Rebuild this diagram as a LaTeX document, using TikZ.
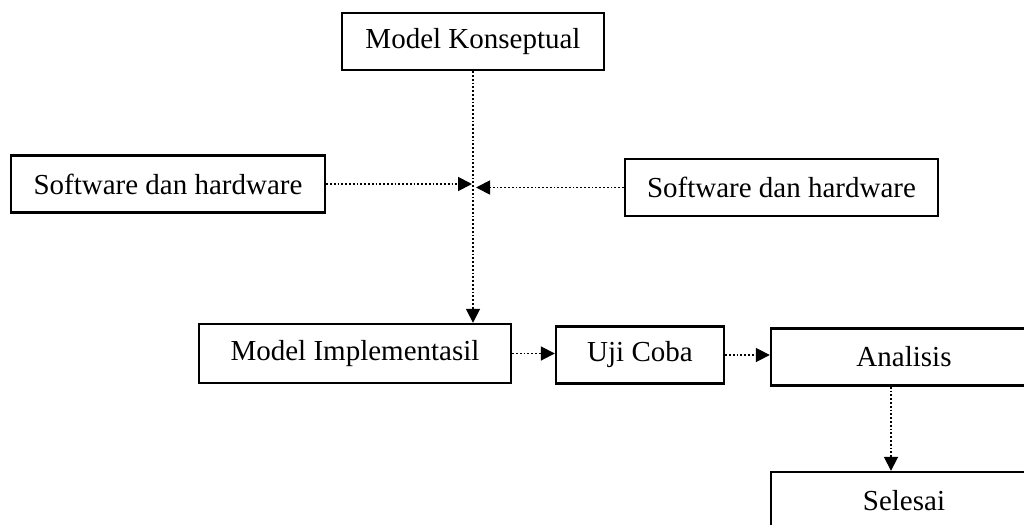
\documentclass[tikz,border=0pt]{standalone}
\usepackage{fontspec}
\setmainfont{Liberation Serif}
\usetikzlibrary{arrows.meta}

\begin{document}
\begin{tikzpicture}[x=0.5pt,y=-0.5pt]

\tikzset{
        every node/.style={font=\fontsize{14.5pt}{17pt}\selectfont},
        box/.style={draw,line width=1.2pt,inner sep=0pt,minimum height=28.5pt},
        flow/.style={-{Triangle[length=7pt,width=7pt]},densely dotted,line width=0.9pt}
}

\useasboundingbox (0,0) rectangle (1024,525);
\clip (0,0) rectangle (1024,525);

\node[box,minimum width=131pt] (MK) at (473,41.5) {Model Konseptual};
\node[box,minimum width=157pt] (SWL) at (168,184) {Software dan hardware};
\node[box,minimum width=156.5pt] (SWR) at (781.5,187.5) {Software dan hardware};

\node[box,minimum width=156pt,minimum height=29.5pt] (MI) at (355,353.5) {Model Implementasil};
\node[box,minimum width=84pt] (UC) at (640,355) {Uji Coba};
\node[box,minimum width=133pt] (AN) at (904,357) {Analisis};
\node[box,minimum width=133pt] (SE) at (904,500.5) {Selesai};

% titik temu di garis tengah
\coordinate (J) at (MK.south |- SWL.east);

\draw[flow] (MK.south) -- (MK.south |- MI.north);
\draw[flow] (SWL.east) -- ([xshift=-0.5pt]J);
\draw[flow] (SWR.west) -- ([xshift=1.5pt]SWR.west -| J);

\draw[flow] (MI.east) -- (MI.east -| UC.west);
\draw[flow] (UC.east) -- (UC.east -| AN.west);
\draw[flow] ([xshift=-6.5pt]AN.south) -- ([xshift=-6.5pt]AN.south |- SE.north);

\end{tikzpicture}
\end{document}
